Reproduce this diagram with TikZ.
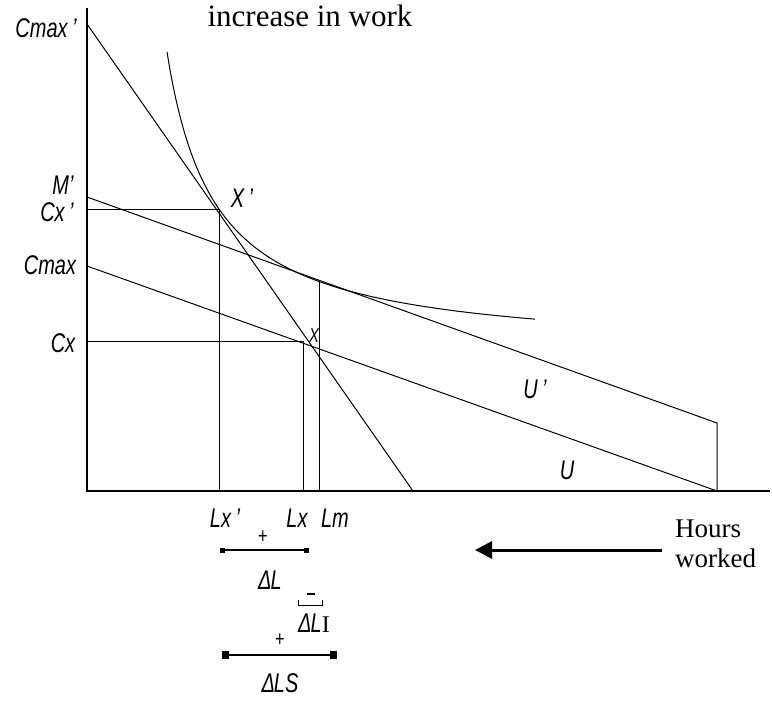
\documentclass[tikz,border=0pt]{standalone}
\usepackage{fontspec}
\setmainfont{Liberation Serif}
\newfontfamily\lab[FakeStretch=0.74]{Liberation Sans}
\usetikzlibrary{arrows.meta}
\begin{document}
\begin{tikzpicture}[x=1pt,y=-1pt,
  thinline/.style={line width=1pt,black},
  axisline/.style={line width=1.4pt,black},
  lbl/.style={inner sep=0pt,font=\lab\itshape\fontsize{27}{30}\selectfont},
  plus/.style={inner sep=0pt,font=\lab\fontsize{22}{24}\selectfont},
  serif/.style={inner sep=0pt,anchor=base west,font=\fontsize{27}{30}\selectfont}]
\useasboundingbox (0,0) rectangle (772,703);
% key points
\coordinate (top) at (87,8);
\coordinate (O) at (87,491);
\coordinate (xend) at (770,491);
\coordinate (CmaxP) at (87,24);
\coordinate (steepEnd) at (413,491);
\coordinate (Mp) at (87,197);
\coordinate (Upend) at (717,423);
\coordinate (Cmax) at (87,266);
\coordinate (Uend) at (717,491);
\coordinate (Xp) at (219,210);
\coordinate (CxP) at (87,210);
\coordinate (LxP) at (219,491);
\coordinate (X) at (303,342);
\coordinate (Cx) at (87,342);
\coordinate (Lx) at (303,491);
\coordinate (T) at (319,281);
\coordinate (Lm) at (319,491);
% axes
\draw[axisline] (top) -- (O) -- (xend);
% budget lines
\draw[thinline] (CmaxP) -- (steepEnd);
\draw[thinline] (Mp) -- (Upend) -- (Uend);
\draw[thinline] (Cmax) -- (Uend);
% drop lines
\draw[thinline] (CxP) -- (Xp) -- (LxP);
\draw[thinline] (Cx) -- (X) -- (Lx);
\draw[thinline] (T) -- (Lm);
% indifference curve
\draw[thinline] plot[domain=167:535,samples=120,smooth] (\x,{354-14500/(\x-119)});
% labels
\node[lbl] (lCmaxP) at (46,28) {Cmax\,’};
\node[lbl] (lMp) at (63,185) {M’};
\node[lbl] (lCxP) at (57,212) {Cx\,’};
\node[lbl] (lCmax) at (50,265) {Cmax};
\node[lbl] (lCx) at (63,343) {Cx};
\node[lbl] (lXp) at (242,198) {X\,’};
\node[lbl,font=\lab\itshape\fontsize{20}{22}\selectfont] (lX) at (314,336) {X};
\node[lbl] (lUp) at (535,389) {U\,’};
\node[lbl] (lU) at (567,470) {U};
\node[lbl] (lLxP) at (225,518) {Lx\,’};
\node[lbl] (lLx) at (297,518) {Lx};
\node[lbl] (lLm) at (335,518) {Lm};
\node[serif,anchor=base,font=\fontsize{31}{34}\selectfont] (title) at (310,27) {increase in work};
\node[serif] (hours) at (675,537) {Hours};
\node[serif] (worked) at (675,568) {worked};
% arrow
\coordinate (arrS) at (662,550);
\coordinate (arrE) at (475,550);
\draw[line width=3pt,-{Triangle[length=17pt,width=17pt]}] (arrS) -- (arrE);
% Delta L bracket
\coordinate (b1l) at (222,550);
\coordinate (b1r) at (307,550);
\draw[line width=1.5pt] (b1l) -- (b1r);
\fill (220,548) rectangle (225,553);
\fill (304,548) rectangle (309,553);
\node[plus] (p1) at (263,537) {+};
\node[lbl] (lDL) at (270,580) {Δ\kern-1ptL};
% Delta L_I small bracket
\coordinate (b2l) at (298,605);
\coordinate (b2r) at (322,605);
\draw[line width=1pt] (298,600) -- (b2l) -- (b2r) -- (322,600);
\coordinate (m1) at (307,594);
\coordinate (m2) at (315,594);
\draw[line width=1.2pt] (m1) -- (m2);
\node[lbl] (lDLI) at (314,623) {Δ\kern-1ptL\textup{\fontspec{Liberation Serif}\fontsize{24}{26}\selectfont I}};
% Delta L_S bracket
\coordinate (b3l) at (223,655);
\coordinate (b3r) at (336,655);
\draw[line width=2.6pt] (b3l) -- (b3r);
\fill (222,651) rectangle (229,659);
\fill (330,651) rectangle (337,659);
\node[plus] (p2) at (280,640) {+};
\node[lbl] (lDLS) at (280,683) {Δ\kern-1ptLS};
\end{tikzpicture}
\end{document}
